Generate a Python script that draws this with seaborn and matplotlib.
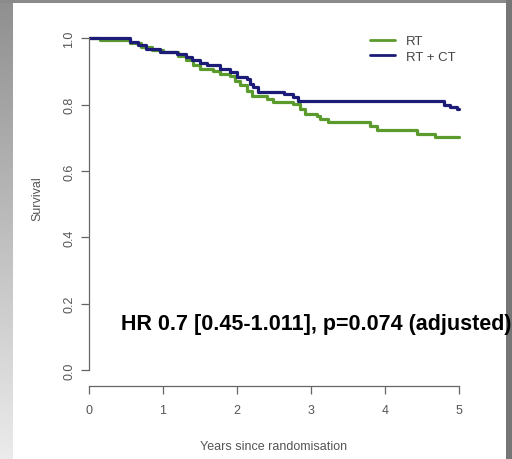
import numpy as np
import pandas as pd
import matplotlib
matplotlib.use("Agg")
import matplotlib.pyplot as plt
import seaborn as sns

# ==============================
# DATA
# ==============================

rt_time = [0.00, 0.15, 0.56, 0.70, 0.85, 1.00, 1.20, 1.32, 1.41, 1.50, 1.68,
           1.77, 1.91, 1.97, 2.04, 2.13, 2.20, 2.40, 2.49, 2.76, 2.85, 2.92,
           3.08, 3.12, 3.23, 3.80, 3.89, 4.43, 4.67, 5.00]
rt_surv = [1.000, 0.995, 0.985, 0.975, 0.965, 0.958, 0.948, 0.935, 0.918,
           0.906, 0.900, 0.892, 0.885, 0.872, 0.859, 0.842, 0.827, 0.817,
           0.809, 0.802, 0.787, 0.772, 0.767, 0.757, 0.747, 0.737, 0.722,
           0.712, 0.701, 0.701]

rtct_time = [0.00, 0.56, 0.66, 0.78, 0.96, 1.19, 1.32, 1.39, 1.50, 1.59, 1.77,
             1.91, 2.00, 2.13, 2.18, 2.22, 2.29, 2.63, 2.76, 2.83, 4.79, 4.88,
             4.97, 5.00]
rtct_surv = [1.000, 0.990, 0.980, 0.968, 0.958, 0.953, 0.943, 0.933, 0.925,
             0.918, 0.908, 0.897, 0.884, 0.877, 0.862, 0.852, 0.839, 0.832,
             0.822, 0.810, 0.799, 0.792, 0.787, 0.787]

arms = ["RT", "RT + CT"]
arm_colors = {"RT": "#5b9a2c", "RT + CT": "#1c1c78"}

x_ticks = [0, 1, 2, 3, 4, 5]
y_ticks = [0.0, 0.2, 0.4, 0.6, 0.8, 1.0]
y_tick_labels = ["0.0", "0.2", "0.4", "0.6", "0.8", "1.0"]

hr_text = "HR 0.7 [0.45-1.011], p=0.074 (adjusted)"

df = pd.concat([
    pd.DataFrame({"Years": rt_time, "Survival": rt_surv, "Arm": "RT"}),
    pd.DataFrame({"Years": rtct_time, "Survival": rtct_surv, "Arm": "RT + CT"}),
])

# ==============================
# FIGURE
# ==============================

sns.set_style("white")
plt.rcParams["font.family"] = ["Liberation Sans", "DejaVu Sans"]

fig = plt.figure(figsize=(5.12, 4.6), dpi=100)

# grey slide background with gradient, white panel on top
bg = fig.add_axes([0, 0, 1, 1], zorder=-2)
grad = np.linspace(0.56, 0.92, 256).reshape(-1, 1)
bg.imshow(grad, cmap="gray", vmin=0, vmax=1, aspect="auto",
          extent=[0, 1, 0, 1], origin="upper")
bg.add_patch(plt.Rectangle((0, 456 / 460), 1, 4 / 460, color="#8a8a8a", lw=0))
bg.add_patch(plt.Rectangle((506 / 512, 0), 6 / 512, 1, color="#767676", lw=0))
bg.add_patch(plt.Rectangle((13 / 512, 0), 493 / 512, 456 / 460,
                           color="white", lw=0))
bg.set_xlim(0, 1)
bg.set_ylim(0, 1)
bg.axis("off")

ax = fig.add_axes([0.1732, 0.1596, 0.7526, 0.7839])
ax.set_facecolor("none")

sns.lineplot(
    data=df, x="Years", y="Survival", hue="Arm", hue_order=arms,
    palette=arm_colors, drawstyle="steps-post", estimator=None,
    linewidth=2.3, ax=ax, legend=False
)

ax.set_xlim(0, 5.2)
ax.set_ylim(-0.047, 1.04)

for s in ["top", "right"]:
    ax.spines[s].set_visible(False)
ax.spines["left"].set_bounds(0, 1)
ax.spines["bottom"].set_bounds(0, 5)
for s in ["left", "bottom"]:
    ax.spines[s].set_color("#666666")
    ax.spines[s].set_linewidth(0.9)

ax.set_xticks(x_ticks)
ax.set_yticks(y_ticks)
ax.set_yticklabels(y_tick_labels, rotation=90, va="center")
ax.tick_params(axis="both", direction="out", length=5.5, width=0.9,
               color="#666666", labelcolor="#555555", labelsize=9,
               left=True, bottom=True)
ax.tick_params(axis="x", pad=8)
ax.tick_params(axis="y", pad=4)

ax.set_xlabel("Years since randomisation", color="#555555", fontsize=9)
ax.set_ylabel("Survival", color="#555555", fontsize=9)
ax.xaxis.set_label_coords(2.5 / 5.2, -0.152)
ax.yaxis.set_label_coords(-0.118, 0.5 + 0.047 / 1.087 / 2)

handles = [plt.Line2D([], [], color=arm_colors[a], lw=2) for a in arms]
ax.legend(handles, arms, frameon=False, fontsize=9.5, labelcolor="#444444",
          loc="upper left", bbox_to_anchor=(0.70, 1.005), handlelength=1.9,
          handletextpad=0.8, labelspacing=0.25)

ax.text(0.436, 0.139, hr_text, fontsize=15.5, fontweight="bold",
        color="black", ha="left", va="center", clip_on=False)

plt.savefig("out.png", dpi=100)
